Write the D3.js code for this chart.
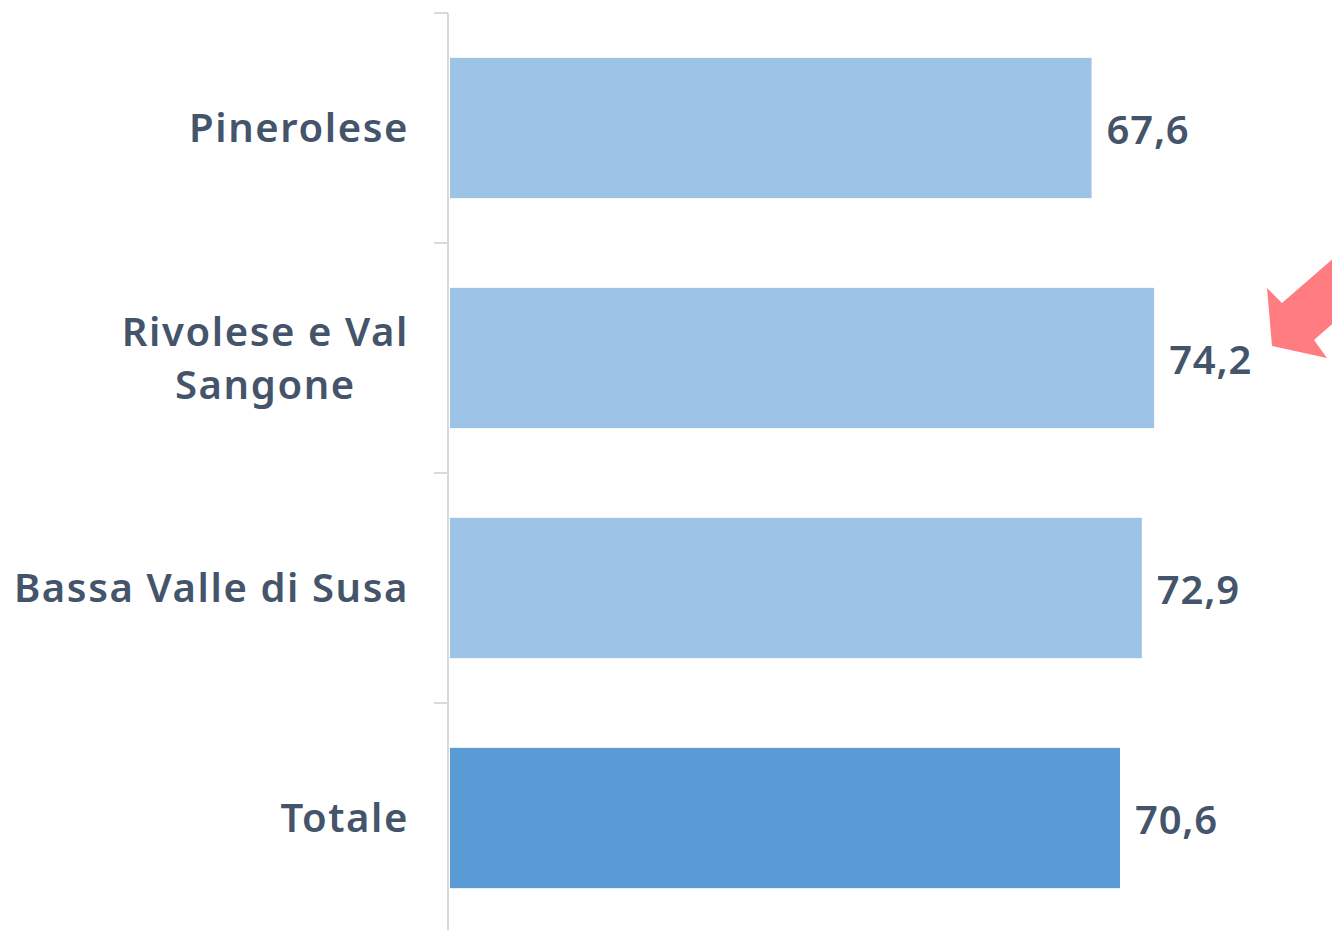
<!DOCTYPE html>
<html>
<head>
    <meta charset="utf-8">
    <style>
        body { margin: 0; background: #fff; }
        text { font-family: "Noto Sans", sans-serif; fill: #44546A; }
        .cat { font-size: 40px; font-weight: 600; letter-spacing: 1.6px; }
        .val { font-size: 40px; font-weight: 600; letter-spacing: 0.8px; }
    </style>
</head>
<body>
    <svg width="1332" height="930"></svg>
    <script src="https://d3js.org/d3.v7.min.js"></script>
    <script>
        var categories = ["Pinerolese", "Rivolese e Val Sangone", "Bassa Valle di Susa", "Totale"];
        var values = [67.6, 74.2, 72.9, 70.6];
        var labelLines = [["Pinerolese"], ["Rivolese e Val", "Sangone"], ["Bassa Valle di Susa"], ["Totale"]];
        var colors = ["#9DC3E6", "#9DC3E6", "#9DC3E6", "#5B9BD5"];

        var svg = d3.select("svg");

        var y = d3.scaleBand()
            .domain(categories)
            .range([13, 933])
            .paddingInner(0.39)
            .paddingOuter(0.195);

        var x = d3.scaleLinear()
            .domain([0, 80])
            .range([450, 450 + 9.49 * 80]);

        // axis line + ticks at band boundaries
        var g = svg.append("g");
        g.append("line")
            .attr("x1", 448).attr("x2", 448)
            .attr("y1", 13).attr("y2", 933)
            .attr("stroke", "#D9D9D9").attr("stroke-width", 2);
        var step = y.step();
        d3.range(categories.length + 1).forEach(function(i) {
            var yy = 13 + i * step;
            g.append("line")
                .attr("x1", 434).attr("x2", 448)
                .attr("y1", yy).attr("y2", yy)
                .attr("stroke", "#D9D9D9").attr("stroke-width", 2);
        });

        svg.selectAll("rect.bar")
            .data(values)
            .enter().append("rect")
            .attr("class", "bar")
            .attr("x", x(0))
            .attr("y", function(d, i) { return y(categories[i]); })
            .attr("width", function(d) { return x(d) - x(0); })
            .attr("height", y.bandwidth())
            .attr("fill", function(d, i) { return colors[i]; });

        svg.selectAll("text.val")
            .data(values)
            .enter().append("text")
            .attr("class", "val")
            .attr("x", function(d) { return x(d) + 15; })
            .attr("y", function(d, i) { return y(categories[i]) + y.bandwidth() / 2 + 2; })
            .attr("dy", "0.35em")
            .text(function(d) { return d.toFixed(1).replace(".", ","); });

        // category labels, multi-line blocks centred on each other, right aligned
        labelLines.forEach(function(lines, i) {
            var cy = y(categories[i]) + y.bandwidth() / 2;
            var lh = 53;
            var t = svg.append("text").attr("class", "cat");
            var tspans = lines.map(function(l, j) {
                return t.append("tspan")
                    .attr("y", cy + (j - (lines.length - 1) / 2) * lh)
                    .attr("dy", "0.35em")
                    .text(l);
            });
            var widths = tspans.map(function(s) { return s.node().getComputedTextLength(); });
            var maxW = d3.max(widths);
            tspans.forEach(function(s) {
                s.attr("x", 409 - maxW / 2).attr("text-anchor", "middle");
            });
        });

        // callout arrow
        svg.append("polygon")
            .attr("points", "1272,346 1267,288 1282,303 1360,235 1392,272 1314,340 1327,358")
            .attr("fill", "#FF7C80");
    </script>
</body>
</html>
